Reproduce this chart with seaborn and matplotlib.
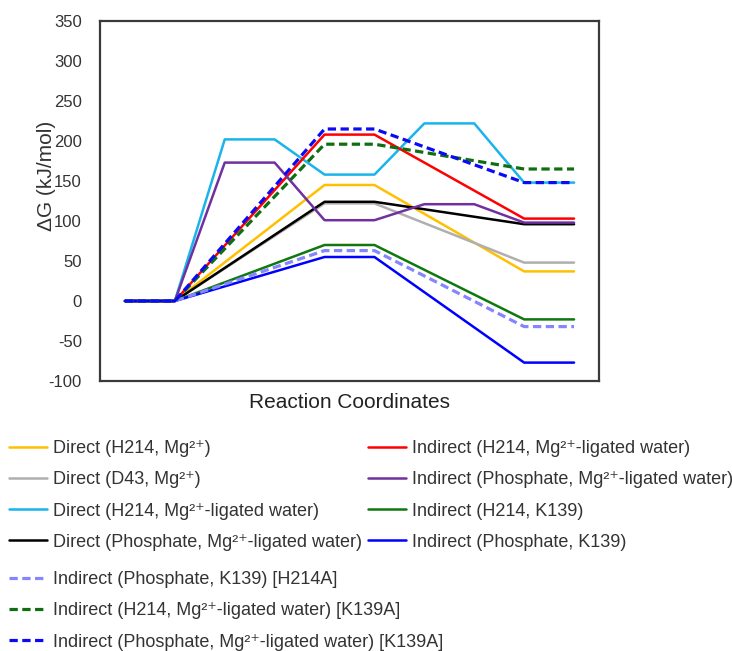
import numpy as np
import pandas as pd
import matplotlib
matplotlib.use('Agg')
import matplotlib.pyplot as plt
import seaborn as sns

# Energy levels (kJ/mol) for the 5 states along the reaction coordinate.
# None = state not part of that pathway (line goes straight across)
states = ['R', 'I1', 'TS', 'I2', 'P']

direct_h214_mg = [0, None, 145, None, 37]
direct_d43_mg = [0, None, 122, None, 48]
direct_h214_water = [0, 202, 158, 222, 148]
direct_phos_water = [0, None, 124, None, 96]
indirect_h214_water = [0, None, 208, None, 103]
indirect_phos_water = [0, 173, 101, 121, 98]
indirect_h214_k139 = [0, None, 70, None, -23]
indirect_phos_k139 = [0, None, 55, None, -77]
indirect_phos_k139_h214a = [0, None, 63, None, -32]
indirect_h214_water_k139a = [0, None, 196, None, 165]
indirect_phos_water_k139a = [0, None, 215, None, 148]

labels = [
    'Direct (H214, Mg²⁺)',
    'Direct (D43, Mg²⁺)',
    'Direct (H214, Mg²⁺-ligated water)',
    'Direct (Phosphate, Mg²⁺-ligated water)',
    'Indirect (H214, Mg²⁺-ligated water)',
    'Indirect (Phosphate, Mg²⁺-ligated water)',
    'Indirect (H214, K139)',
    'Indirect (Phosphate, K139)',
    'Indirect (Phosphate, K139) [H214A]',
    'Indirect (H214, Mg²⁺-ligated water) [K139A]',
    'Indirect (Phosphate, Mg²⁺-ligated water) [K139A]',
]
series = [direct_h214_mg, direct_d43_mg, direct_h214_water, direct_phos_water,
          indirect_h214_water, indirect_phos_water, indirect_h214_k139, indirect_phos_k139,
          indirect_phos_k139_h214a, indirect_h214_water_k139a, indirect_phos_water_k139a]
colors = ['#FFC000', '#AFAFAF', '#1AB4EC', '#000000',
          '#FF0000', '#7030A0', '#0F780F', '#0000FF',
          '#8585FF', '#0F6E0F', '#0A0AF5']
dashed = [False] * 8 + [True] * 3

# each state is drawn as a flat segment over two category slots
rows = []
for lab, vals in zip(labels, series):
    for i, v in enumerate(vals):
        if v is None:
            continue
        rows.append({'series': lab, 'x': 2 * i + 1, 'dG': v})
        rows.append({'series': lab, 'x': 2 * i + 2, 'dG': v})
df = pd.DataFrame(rows)

sns.set_style('white')
plt.rcParams['font.family'] = ['Liberation Sans', 'DejaVu Sans']
plt.rcParams['axes.unicode_minus'] = False
text_col = '#333333'

fig = plt.figure(figsize=(7.32, 6.51), dpi=100)
ax = fig.add_axes([100 / 732, 1 - 381 / 651, 499 / 732, 360 / 651])

# draw order: solids, yellow last among them, then the dashed mutants on top
order = [1, 2, 3, 4, 5, 6, 7, 0, 8, 9, 10]
handles = {}
for k in order:
    sub = df[df['series'] == labels[k]]
    sns.lineplot(data=sub, x='x', y='dG', ax=ax, color=colors[k], sort=False,
                 estimator=None, linewidth=2.3 if dashed[k] else 1.8,
                 linestyle=(0, (2.6, 1.4)) if dashed[k] else '-', zorder=2 + k)
    handles[k] = ax.lines[-1]

ax.set_xlim(0.5, 10.5)
ax.set_ylim(-100, 350)
ax.set_yticks(np.arange(-100, 351, 50))
ax.set_xticks([])
ax.tick_params(axis='y', length=0, pad=13, labelsize=12, labelcolor=text_col)
for sp in ax.spines.values():
    sp.set_color('#3a3a3a')
    sp.set_linewidth(1.6)

ax.set_xlabel('Reaction Coordinates', fontsize=15, color='#222222', labelpad=9)
ax.set_ylabel('ΔG (kJ/mol)', fontsize=15, color=text_col)
ax.yaxis.set_label_coords(-0.088, 0.57)

leg_kw = dict(loc='upper left', frameon=False, fontsize=13, borderpad=0,
              borderaxespad=0, handlelength=2.1, handletextpad=0.35,
              labelspacing=0.79, labelcolor=text_col)
fig.legend([handles[k] for k in range(4)], labels[0:4],
           bbox_to_anchor=(9 / 732, 1 - 440 / 651), **leg_kw)
fig.legend([handles[k] for k in range(4, 8)], labels[4:8],
           bbox_to_anchor=(368 / 732, 1 - 440 / 651), **leg_kw)
fig.legend([handles[k] for k in range(8, 11)], labels[8:11],
           bbox_to_anchor=(9 / 732, 1 - 571 / 651), **leg_kw)

fig.savefig('out.png', dpi=100, facecolor='white')
